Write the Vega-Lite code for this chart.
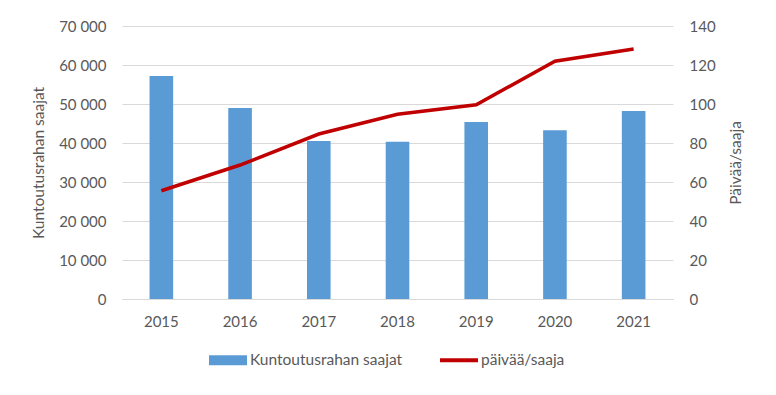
{
  "$schema": "https://vega.github.io/schema/vega-lite/v6.json",
  "width": 551,
  "height": 273,
  "autosize": "none",
  "padding": {"left": 122, "top": 26, "right": 103, "bottom": 96},
  "background": "white",
  "config": {
    "view": {"stroke": null},
    "font": "Lato",
    "axis": {
      "labelFont": "Lato",
      "titleFont": "Lato",
      "labelColor": "#595959",
      "titleColor": "#595959",
      "labelFontSize": 15,
      "titleFontSize": 15.5,
      "titleFontWeight": "normal",
      "ticks": false,
      "domain": false,
      "gridColor": "#D9D9D9",
      "gridWidth": 1
    },
    "legend": {"labelFont": "Lato", "labelFontSize": 15.5, "labelColor": "#595959"}
  },
  "data": {
    "values": [
      {"vuosi": "2015", "saajat": 57200, "paivaa": 55.5},
      {"vuosi": "2016", "saajat": 49000, "paivaa": 68.7},
      {"vuosi": "2017", "saajat": 40500, "paivaa": 84.6},
      {"vuosi": "2018", "saajat": 40300, "paivaa": 94.7},
      {"vuosi": "2019", "saajat": 45400, "paivaa": 99.6},
      {"vuosi": "2020", "saajat": 43300, "paivaa": 121.9},
      {"vuosi": "2021", "saajat": 48200, "paivaa": 128.2}
    ]
  },
  "encoding": {
    "x": {
      "field": "vuosi",
      "type": "ordinal",
      "scale": {"paddingInner": 0.7, "paddingOuter": 0.35},
      "axis": {
        "title": null,
        "labelAngle": 0,
        "domain": true,
        "domainColor": "#D9D9D9",
        "labelPadding": 15,
        "grid": false
      }
    }
  },
  "layer": [
    {
      "mark": {"type": "bar"},
      "encoding": {
        "y": {
          "field": "saajat",
          "type": "quantitative",
          "scale": {"domain": [0, 70000], "nice": false},
          "axis": {
            "title": "Kuntoutusrahan saajat",
            "values": [0, 10000, 20000, 30000, 40000, 50000, 60000, 70000],
            "labelExpr": "replace(format(datum.value, ','), ',', ' ')",
            "labelPadding": 16,
            "titlePadding": 12,
            "grid": true
          }
        },
        "color": {
          "datum": "Kuntoutusrahan saajat",
          "type": "nominal",
          "scale": {
            "domain": ["Kuntoutusrahan saajat", "päivää/saaja"],
            "range": ["#5B9BD5", "#C00000"]
          },
          "legend": {
            "title": null,
            "orient": "none",
            "legendX": 87,
            "legendY": 315,
            "direction": "horizontal",
            "symbolSize": 1444,
            "labelOffset": 3,
            "columnPadding": 37,
            "encode": {
              "symbols": {
                "update": {
                  "shape": {"signal": "datum.value === 'päivää/saaja' ? 'M-1,-0.11H1V0.11H-1Z' : 'M-1,-0.26H1V0.26H-1Z'"},
                  "fill": {"signal": "datum.value === 'päivää/saaja' ? '#C00000' : '#5B9BD5'"},
                  "stroke": {"value": "transparent"},
                  "strokeWidth": {"value": 0},
                  "opacity": {"value": 1},
                  "fillOpacity": {"value": 1},
                  "strokeOpacity": {"value": 1}
                }
              }
            }
          }
        }
      }
    },
    {
      "mark": {"type": "line", "strokeWidth": 3.5},
      "encoding": {
        "y": {
          "field": "paivaa",
          "type": "quantitative",
          "scale": {"domain": [0, 140], "nice": false},
          "axis": {
            "orient": "right",
            "title": "Päivää/saaja",
            "titleAngle": 270,
            "values": [0, 20, 40, 60, 80, 100, 120, 140],
            "labelPadding": 16,
            "titlePadding": 28,
            "grid": false
          }
        },
        "color": {"datum": "päivää/saaja", "type": "nominal"}
      }
    }
  ],
  "resolve": {"scale": {"y": "independent"}}
}
